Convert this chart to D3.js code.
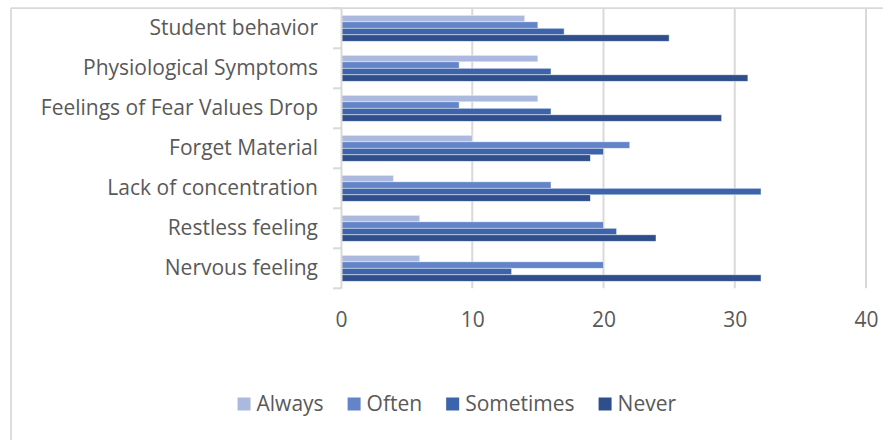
<!DOCTYPE html>
<html>
<head>
<meta charset="utf-8">
<script src="https://cdn.jsdelivr.net/npm/d3@7"></script>
<style>
  html, body { margin: 0; padding: 0; background: #fff; }
  svg { display: block; }
  text { font-family: "Open Sans", sans-serif; fill: #595959; }
</style>
</head>
<body>
<svg id="chart" width="883" height="440"></svg>
<script>
// Categories, top to bottom
const categories = [
  "Student behavior",
  "Physiological Symptoms",
  "Feelings of Fear Values Drop",
  "Forget Material",
  "Lack of concentration",
  "Restless feeling",
  "Nervous feeling"
];
const seriesNames = ["Always", "Often", "Sometimes", "Never"];
const always    = [14, 15, 15, 10, 4, 6, 6];
const often     = [15, 9, 9, 22, 16, 20, 20];
const sometimes = [17, 16, 16, 20, 32, 21, 13];
const never     = [25, 31, 29, 19, 19, 24, 32];
const xTicks = [0, 10, 20, 30, 40];
const colors = ["#abb9de", "#6384c8", "#3b64ad", "#2e4f8b"];

const seriesValues = [always, often, sometimes, never];
const rows = categories.map((c, i) => ({
  category: c,
  values: seriesNames.map((s, j) => ({ series: s, value: seriesValues[j][i] }))
}));

const svg = d3.select("#chart");
const grid = "#d9d9d9";
const font = "'Open Sans', sans-serif";
const fontSize = 21;

// Outer chart frame (top and left edges visible)
svg.append("line").attr("x1", 11).attr("x2", 883).attr("y1", 8).attr("y2", 8)
  .attr("stroke", grid).attr("stroke-width", 1.75);
svg.append("line").attr("x1", 11).attr("x2", 11).attr("y1", 8).attr("y2", 440)
  .attr("stroke", grid).attr("stroke-width", 1.75);

const plot = { left: 341, right: 866, top: 8.3, bottom: 288.3 };

const x = d3.scaleLinear().domain([0, 40]).range([plot.left, plot.right]);
const y = d3.scaleBand().domain(categories).range([plot.top, plot.bottom]).padding(0);
const inner = d3.scaleBand().domain(seriesNames)
  .range([7, y.bandwidth() - 7]).padding(0);

// Vertical gridlines
svg.append("g").selectAll("line").data(xTicks.filter(t => t > 0)).join("line")
  .attr("x1", d => x(d)).attr("x2", d => x(d))
  .attr("y1", plot.top).attr("y2", plot.bottom)
  .attr("stroke", grid).attr("stroke-width", 2);

// Bars
const groups = svg.append("g").selectAll("g").data(rows).join("g")
  .attr("transform", d => `translate(0,${y(d.category)})`);
groups.selectAll("rect").data(d => d.values).join("rect")
  .attr("x", x(0))
  .attr("y", d => inner(d.series))
  .attr("width", d => x(d.value) - x(0))
  .attr("height", inner.bandwidth())
  .attr("fill", (d, i) => colors[i])
  .attr("stroke", "#ffffff")
  .attr("stroke-opacity", 0.6)
  .attr("stroke-width", 0.75);

// Category axis on the left
const yAxis = svg.append("g").attr("transform", `translate(${plot.left},0)`)
  .call(d3.axisLeft(y).tickSize(0).tickPadding(23));
yAxis.select(".domain").attr("stroke", grid).attr("stroke-width", 2);
yAxis.selectAll("text").attr("font-size", fontSize).style("fill", "#595959")
  .style("font-family", font);
// boundary tick marks between categories
const boundaries = categories.map(c => y(c) + y.bandwidth());
boundaries.unshift(plot.top);
svg.append("g").selectAll("line").data(boundaries).join("line")
  .attr("x1", plot.left - 8).attr("x2", plot.left)
  .attr("y1", d => d).attr("y2", d => d)
  .attr("stroke", grid).attr("stroke-width", 2);

// Value axis labels
const xAxis = svg.append("g").attr("transform", `translate(0,${plot.bottom})`)
  .call(d3.axisBottom(x).tickValues(xTicks).tickSize(0).tickPadding(24));
xAxis.select(".domain").remove();
xAxis.selectAll("text").attr("font-size", fontSize).style("fill", "#595959")
  .style("font-family", font);

// Legend
const legend = svg.append("g");
const items = legend.selectAll("g").data(seriesNames).join("g");
items.append("rect").attr("width", 13).attr("height", 13).attr("y", 397.5)
  .attr("fill", (d, i) => colors[i]);
items.append("text").attr("x", 19).attr("y", 404).attr("dy", "0.35em")
  .attr("font-size", fontSize).text(d => d);
let cx = 0;
const widths = [];
items.each(function () { widths.push(this.getBBox().width); });
const gap = 24;
const total = d3.sum(widths) + gap * (widths.length - 1);
cx = 457 - total / 2;
items.attr("transform", (d, i) => {
  const t = `translate(${cx},0)`;
  cx += widths[i] + gap;
  return t;
});
</script>
</body>
</html>
